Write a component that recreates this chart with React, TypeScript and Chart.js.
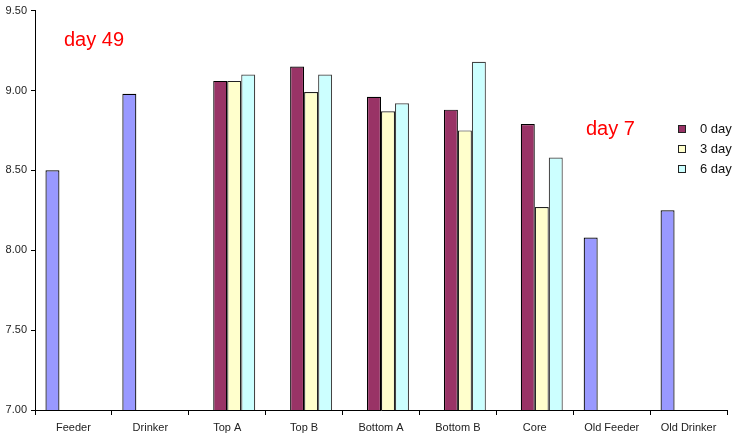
import React, { useEffect, useRef } from "react";
import { Chart, registerables } from "chart.js";

Chart.register(...registerables);

const categories = ["Feeder", "Drinker", "Top A", "Top B", "Bottom A", "Bottom B", "Core", "Old Feeder", "Old Drinker"];
const day49Values = [8.5, 8.98, null, null, null, null, null, 8.08, 8.25];
const day0Values = [null, null, 9.06, 9.15, 8.96, 8.88, 8.79, null, null];
const day3Values = [null, null, 9.06, 8.99, 8.87, 8.75, 8.27, null, null];
const day6Values = [null, null, 9.1, 9.1, 8.92, 9.18, 8.58, null, null];
const seriesLabels = ["day 49", "0 day", "3 day", "6 day"];
const yTicks = [7.0, 7.5, 8.0, 8.5, 9.0, 9.5];

const FONT = "'Liberation Sans', Arial, sans-serif";

const overlayPlugin = {
  id: "overlay",
  afterDraw(chart: any) {
    const ctx = chart.ctx;
    ctx.save();
    ctx.fillStyle = "#ff0000";
    ctx.font = `20px ${FONT}`;
    ctx.textAlign = "left";
    ctx.textBaseline = "middle";
    ctx.fillText("day 49", 64, 40);
    ctx.fillText("day 7", 586, 129);
    // legend (skip first series)
    ctx.font = `13px ${FONT}`;
    const ds = chart.data.datasets;
    for (let i = 1; i < ds.length; i++) {
      const y = 129 + (i - 1) * 20;
      ctx.fillStyle = ds[i].backgroundColor;
      ctx.fillRect(678.5, y - 3.5, 7, 7);
      ctx.strokeStyle = "#222";
      ctx.lineWidth = 1;
      ctx.strokeRect(678.5, y - 3.5, 7, 7);
      ctx.fillStyle = "#111";
      ctx.fillText(ds[i].label, 700, y);
    }
    ctx.restore();
  },
};

export default function App() {
  const ref = useRef<HTMLCanvasElement>(null);
  useEffect(() => {
    const mk = (label: string, data: any[], bg: string, bc: string) => ({
      label,
      data,
      backgroundColor: bg,
      borderColor: bc,
      borderWidth: 1.2,
      borderSkipped: false,
      categoryPercentage: 0.728,
      barPercentage: 1,
    });
    const chart = new Chart(ref.current!, {
      type: "bar",
      data: {
        labels: categories,
        datasets: [
          mk(seriesLabels[0], day49Values, "#9999ff", "#000"),
          mk(seriesLabels[1], day0Values, "#993366", "#000"),
          mk(seriesLabels[2], day3Values, "#ffffcc", "#222"),
          mk(seriesLabels[3], day6Values, "#ccffff", "#444"),
        ],
      },
      options: {
        animation: false,
        responsive: true,
        maintainAspectRatio: false,
        layout: { padding: { top: 9, right: 8, left: 0, bottom: 0 } },
        plugins: { legend: { display: false }, tooltip: { enabled: false } },
        scales: {
          x: {
            grid: { display: true, drawOnChartArea: false, drawTicks: true, tickLength: 5, color: "#000", offset: true },
            border: { color: "#000", width: 1 },
            ticks: { font: { family: FONT, size: 11 }, color: "#222", padding: 6, maxRotation: 0, autoSkip: false },
            afterFit: (s: any) => { s.height = 36; },
          },
          y: {
            min: yTicks[0],
            max: yTicks[yTicks.length - 1],
            afterBuildTicks: (s: any) => { s.ticks = yTicks.map((v) => ({ value: v })); },
            grid: { display: true, drawOnChartArea: false, drawTicks: true, tickLength: 4, color: "#000" },
            border: { color: "#000", width: 1 },
            ticks: {
              font: { family: FONT, size: 11 },
              color: "#222",
              padding: 4,
              callback: (v: any) => Number(v).toFixed(2),
            },
            afterFit: (s: any) => { s.width = 35; },
          },
        },
      },
      plugins: [overlayPlugin],
    });
    return () => chart.destroy();
  }, []);
  return (
    <div style={{ position: "fixed", left: 0, top: 0, width: 735, height: 446, background: "#fff" }}>
      <canvas ref={ref} />
    </div>
  );
}
